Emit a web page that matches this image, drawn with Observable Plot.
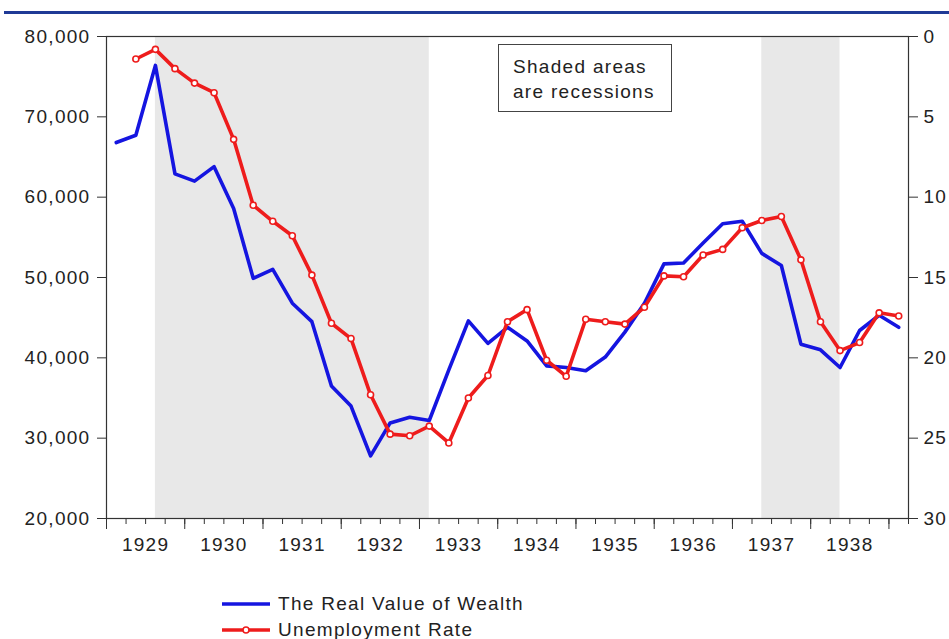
<!DOCTYPE html>
<html>
<head>
<meta charset="utf-8">
<script src="https://cdn.jsdelivr.net/npm/d3@7"></script>
<script src="https://cdn.jsdelivr.net/npm/@observablehq/plot@0.6"></script>
<style>
  html, body { margin: 0; padding: 0; background: #fff; }
  body { width: 949px; height: 639px; overflow: hidden; position: relative;
         font-family: "Liberation Sans", Arial, sans-serif; color: #222; }
  #rule { position: absolute; left: 4px; right: 0; top: 11px; height: 2.5px; background: #1f3a96; }
  #chart { position: absolute; left: 0; top: 0; }
  #note { position: absolute; left: 498px; top: 44px; width: 174px; height: 68px; box-sizing: border-box;
          border: 1.5px solid #444; background: #fff; font-size: 19px; letter-spacing: 1.3px;
          line-height: 25px; padding: 9px 0 0 14px; }
  #legend { position: absolute; left: 222px; top: 591px; font-size: 19px; letter-spacing: 1.3px; }
  .row { height: 26px; display: flex; align-items: center; }
  .row svg { margin-right: 8px; }
</style>
</head>
<body>
<div id="rule"></div>
<div id="chart"></div>
<div id="note">Shaded areas<br>are recessions</div>
<div id="legend">
  <div class="row"><svg width="48" height="26"><line x1="0" x2="48" y1="13" y2="13" stroke="#1515e0" stroke-width="3.5"/></svg><span>The Real Value of Wealth</span></div>
  <div class="row"><svg width="48" height="26"><line x1="0" x2="48" y1="13" y2="13" stroke="#ee1c1c" stroke-width="3.5"/><circle cx="24" cy="13" r="3" fill="#fff" stroke="#ee1c1c" stroke-width="1.6"/></svg><span>Unemployment Rate</span></div>
</div>
<script>
// ---- data ----
const years = [1929, 1930, 1931, 1932, 1933, 1934, 1935, 1936, 1937, 1938, 1939];
const quarters = years.flatMap(y => [1, 2, 3, 4].map(q => `${y}Q${q}`)).slice(0, 41); // 1929Q1 .. 1939Q1

// The Real Value of Wealth (left axis), 1929Q1 .. 1939Q1
const wealth = [
  66800, 67700, 76400, 62900,
  62000, 63800, 58600, 49900,
  51000, 46800, 44500, 36500,
  34000, 27800, 31900, 32600,
  32200, 38500, 44600, 41800,
  43800, 42100, 39000, 38800,
  38400, 40100, 43200, 46800,
  51700, 51800, 54300, 56700,
  57000, 53000, 51500, 41700,
  41000, 38800, 43400, 45300,
  43800
];

// Unemployment Rate (right axis, inverted), 1929Q2 .. 1939Q1
const unemployment = [
         1.4, 0.8, 2.0,
  2.9, 3.5, 6.4, 10.5,
  11.5, 12.4, 14.85, 17.85,
  18.8, 22.3, 24.75, 24.85,
  24.25, 25.3, 22.5, 21.1,
  17.75, 17.0, 20.15, 21.15,
  17.6, 17.75, 17.9, 16.85,
  14.9, 14.95, 13.6, 13.25,
  11.9, 11.45, 11.2, 13.9,
  17.75, 19.55, 19.05, 17.2,
  17.4
];

const recessions = [
  { start: "1929Q3", end: "1933Q1" },
  { start: "1937Q2", end: "1938Q2" }
];

const leftTicks = [20000, 30000, 40000, 50000, 60000, 70000, 80000];
const rightTicks = [0, 5, 10, 15, 20, 25, 30];

// ---- helpers ----
const qToX = s => +s.slice(0, 4) + (+s.slice(5) - 0.5) / 4;      // quarter midpoint
const uToY = u => 80000 - u * 2000;                                // right axis 0..30 (inverted) onto left scale
const yToU = v => (80000 - v) / 2000;

const wealthData = quarters.map((q, i) => ({ q, x: qToX(q), v: wealth[i] }));
const unempData = quarters.slice(1).map((q, i) => ({ q, x: qToX(q), v: uToY(unemployment[i]) }));
const recData = recessions.map(r => ({ x1: qToX(r.start), x2: qToX(r.end) }));

const axisYears = years.slice(0, 10);
const quarterTicks = years.flatMap(y => [0, 0.25, 0.5, 0.75].map(f => y + f)).filter(t => t <= 1939.25);
const yearTicks = years;
const yearMids = axisYears.map(y => y + 0.5);

const chart = Plot.plot({
  width: 949,
  height: 580,
  marginTop: 36,
  marginBottom: 62,
  marginLeft: 106,
  marginRight: 41,
  style: { fontFamily: "Liberation Sans, Arial, sans-serif", fontSize: "19px", color: "#222", letterSpacing: "1.3px", overflow: "visible" },
  x: { domain: [1929, 1939.25], axis: null, label: null },
  y: { domain: [20000, 80000], axis: null, label: null },
  marks: [
    Plot.rect(recData, { x1: "x1", x2: "x2", fill: "#e8e8e8" }),
    Plot.axisY(leftTicks, { anchor: "left", label: null, tickSize: 9, tickPadding: 7, tickFormat: d3.format(","), stroke: "#333" }),
    Plot.axisY(rightTicks.map(uToY), { anchor: "right", label: null, tickSize: 9, tickPadding: 6, tickFormat: yToU, stroke: "#333" }),
    Plot.axisX(quarterTicks, { anchor: "bottom", label: null, tickSize: 6, tickFormat: () => "", stroke: "#333" }),
    Plot.axisX(yearTicks, { anchor: "bottom", label: null, tickSize: 11, tickFormat: () => "", stroke: "#333" }),
    Plot.axisX(yearMids, { anchor: "bottom", label: null, tickSize: 0, tickPadding: 19, tickFormat: d => String(Math.floor(d)) }),
    Plot.frame({ stroke: "#333", strokeWidth: 1.2 }),
    Plot.line(wealthData, { x: "x", y: "v", stroke: "#1515e0", strokeWidth: 3.6, strokeLinejoin: "round" }),
    Plot.line(unempData, { x: "x", y: "v", stroke: "#ee1c1c", strokeWidth: 3.6, strokeLinejoin: "round" }),
    Plot.dot(unempData, { x: "x", y: "v", r: 3, fill: "#fff", stroke: "#ee1c1c", strokeWidth: 1.6 })
  ]
});
document.getElementById("chart").appendChild(chart);
</script>
</body>
</html>
